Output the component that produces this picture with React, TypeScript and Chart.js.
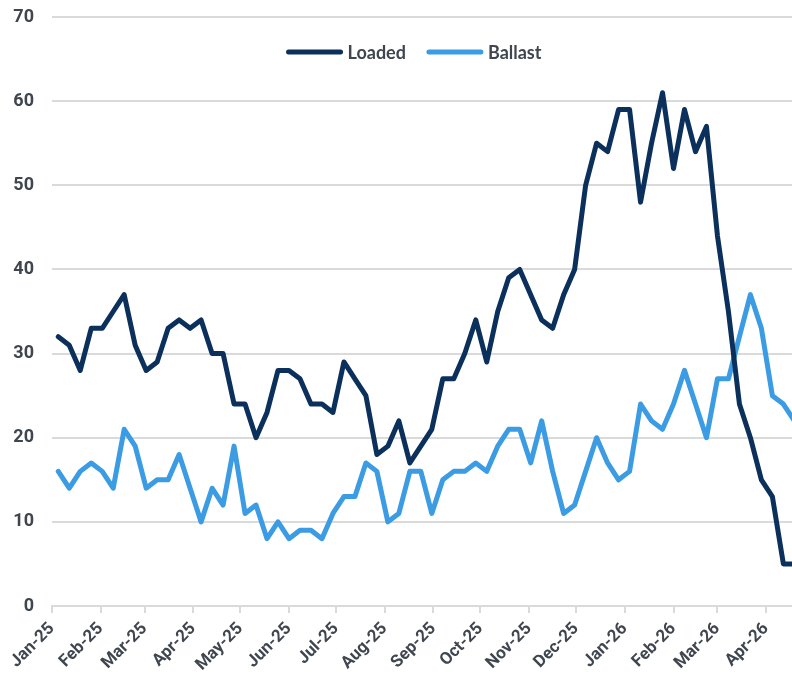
import React, { useEffect, useRef } from 'react';
import { Chart, registerables } from 'chart.js';

Chart.register(...registerables);

// Month tick labels (first day of each month)
const monthLabels = [
  'Jan-25', 'Feb-25', 'Mar-25', 'Apr-25', 'May-25', 'Jun-25', 'Jul-25', 'Aug-25',
  'Sep-25', 'Oct-25', 'Nov-25', 'Dec-25', 'Jan-26', 'Feb-26', 'Mar-26', 'Apr-26',
];
const monthStarts = [
  '2025-01-01', '2025-02-01', '2025-03-01', '2025-04-01', '2025-05-01', '2025-06-01',
  '2025-07-01', '2025-08-01', '2025-09-01', '2025-10-01', '2025-11-01', '2025-12-01',
  '2026-01-01', '2026-02-01', '2026-03-01', '2026-04-01',
];

// Weekly observations starting on this date
const firstWeek = '2025-01-05';
const axisStart = '2025-01-01';
const axisEndDays = 471.5;

const loaded = [
  32, 31, 28, 33, 33, 35, 37, 31, 28, 29,
  33, 34, 33, 34, 30, 30, 24, 24, 20, 23,
  28, 28, 27, 24, 24, 23, 29, 27, 25, 18,
  19, 22, 17, 19, 21, 27, 27, 30, 34, 29,
  35, 39, 40, 37, 34, 33, 37, 40, 50, 55,
  54, 59, 59, 48, 55, 61, 52, 59, 54, 57,
  44, 35, 24, 20, 15, 13, 5, 5,
];
const ballast = [
  16, 14, 16, 17, 16, 14, 21, 19, 14, 15,
  15, 18, 14, 10, 14, 12, 19, 11, 12, 8,
  10, 8, 9, 9, 8, 11, 13, 13, 17, 16,
  10, 11, 16, 16, 11, 15, 16, 16, 17, 16,
  19, 21, 21, 17, 22, 16, 11, 12, 16, 20,
  17, 15, 16, 24, 22, 21, 24, 28, 24, 20,
  27, 27, 32, 37, 33, 25, 24, 22,
];

const DAY = 86400000;
const dayOffset = (iso: string) => (Date.parse(iso) - Date.parse(axisStart)) / DAY;
const weekX = (i: number) => dayOffset(firstWeek) + 7 * i;

const LOADED_COLOR = '#0b305b';
const BALLAST_COLOR = '#3b9be3';
const TEXT_COLOR = '#3f4650';
const GRID_COLOR = '#dadada';

const legendPlugin = {
  id: 'inlineLegend',
  afterDraw(chart: any) {
    const { ctx, chartArea } = chart;
    const items = chart.data.datasets.map((ds: any) => ({ label: ds.label, color: ds.borderColor }));
    ctx.save();
    ctx.font = 'bold 18px Lato';
    const lineW = 52;
    const gap = 7;
    const between = 23;
    const widths = items.map((it: any) => ctx.measureText(it.label).width);
    let total = 0;
    items.forEach((_: any, i: number) => { total += lineW + gap + widths[i]; });
    total += between * (items.length - 1);
    let x = (chartArea.left + chartArea.right) / 2 - 7 - total / 2;
    const y = 52;
    items.forEach((it: any, i: number) => {
      ctx.beginPath();
      ctx.strokeStyle = it.color;
      ctx.lineWidth = 5;
      ctx.lineCap = 'round';
      ctx.moveTo(x, y);
      ctx.lineTo(x + lineW, y);
      ctx.stroke();
      ctx.fillStyle = TEXT_COLOR;
      ctx.textBaseline = 'middle';
      ctx.textAlign = 'left';
      ctx.fillText(it.label, x + lineW + gap, y + 1);
      x += lineW + gap + widths[i] + between;
    });
    ctx.restore();
  },
};

export default function App() {
  const canvasRef = useRef<HTMLCanvasElement | null>(null);

  useEffect(() => {
    if (!canvasRef.current) return;
    const tickValues = monthStarts.map(dayOffset);
    const chart = new Chart(canvasRef.current, {
      type: 'line',
      data: {
        datasets: [
          {
            label: 'Loaded',
            data: loaded.map((v, i) => ({ x: weekX(i), y: v })),
            borderColor: LOADED_COLOR,
            backgroundColor: LOADED_COLOR,
            borderWidth: 5,
            pointRadius: 0,
            tension: 0,
            borderJoinStyle: 'round',
            borderCapStyle: 'round',
          },
          {
            label: 'Ballast',
            data: ballast.map((v, i) => ({ x: weekX(i), y: v })),
            borderColor: BALLAST_COLOR,
            backgroundColor: BALLAST_COLOR,
            borderWidth: 5,
            pointRadius: 0,
            tension: 0,
            borderJoinStyle: 'round',
            borderCapStyle: 'round',
          },
        ],
      },
      options: {
        animation: false,
        responsive: true,
        maintainAspectRatio: false,
        layout: { padding: { top: 17, right: 0, bottom: 0, left: 0 } },
        plugins: {
          legend: { display: false },
          tooltip: { enabled: false },
        },
        scales: {
          x: {
            type: 'linear',
            min: 0,
            max: axisEndDays,
            afterBuildTicks: (scale: any) => {
              scale.ticks = tickValues.map((v) => ({ value: v }));
            },
            afterFit: (scale: any) => {
              scale.height = 70;
            },
            ticks: {
              autoSkip: false,
              minRotation: 45,
              maxRotation: 45,
              padding: 6,
              color: TEXT_COLOR,
              font: { family: 'Roboto', size: 17, weight: 'bold' },
              callback: (_v: any, index: number) => monthLabels[index],
            },
            grid: {
              display: true,
              drawOnChartArea: false,
              drawTicks: true,
              tickLength: 7,
              color: GRID_COLOR,
              lineWidth: 2,
            },
            border: { display: true, color: GRID_COLOR, width: 2 },
          },
          y: {
            min: 0,
            max: 70,
            afterFit: (scale: any) => {
              scale.width = 52;
              scale.paddingTop = 0;
              scale.paddingBottom = 0;
            },
            ticks: {
              stepSize: 10,
              padding: 18,
              color: TEXT_COLOR,
              font: { family: 'Roboto', size: 18, weight: 'bold' },
            },
            grid: {
              color: GRID_COLOR,
              lineWidth: 2,
              drawTicks: false,
            },
            border: { display: false },
          },
        },
      },
      plugins: [legendPlugin],
    });
    return () => chart.destroy();
  }, []);

  return (
    <div style={{ position: 'absolute', left: 0, top: 0, width: 792, height: 676, background: '#ffffff' }}>
      <canvas ref={canvasRef} />
    </div>
  );
}
